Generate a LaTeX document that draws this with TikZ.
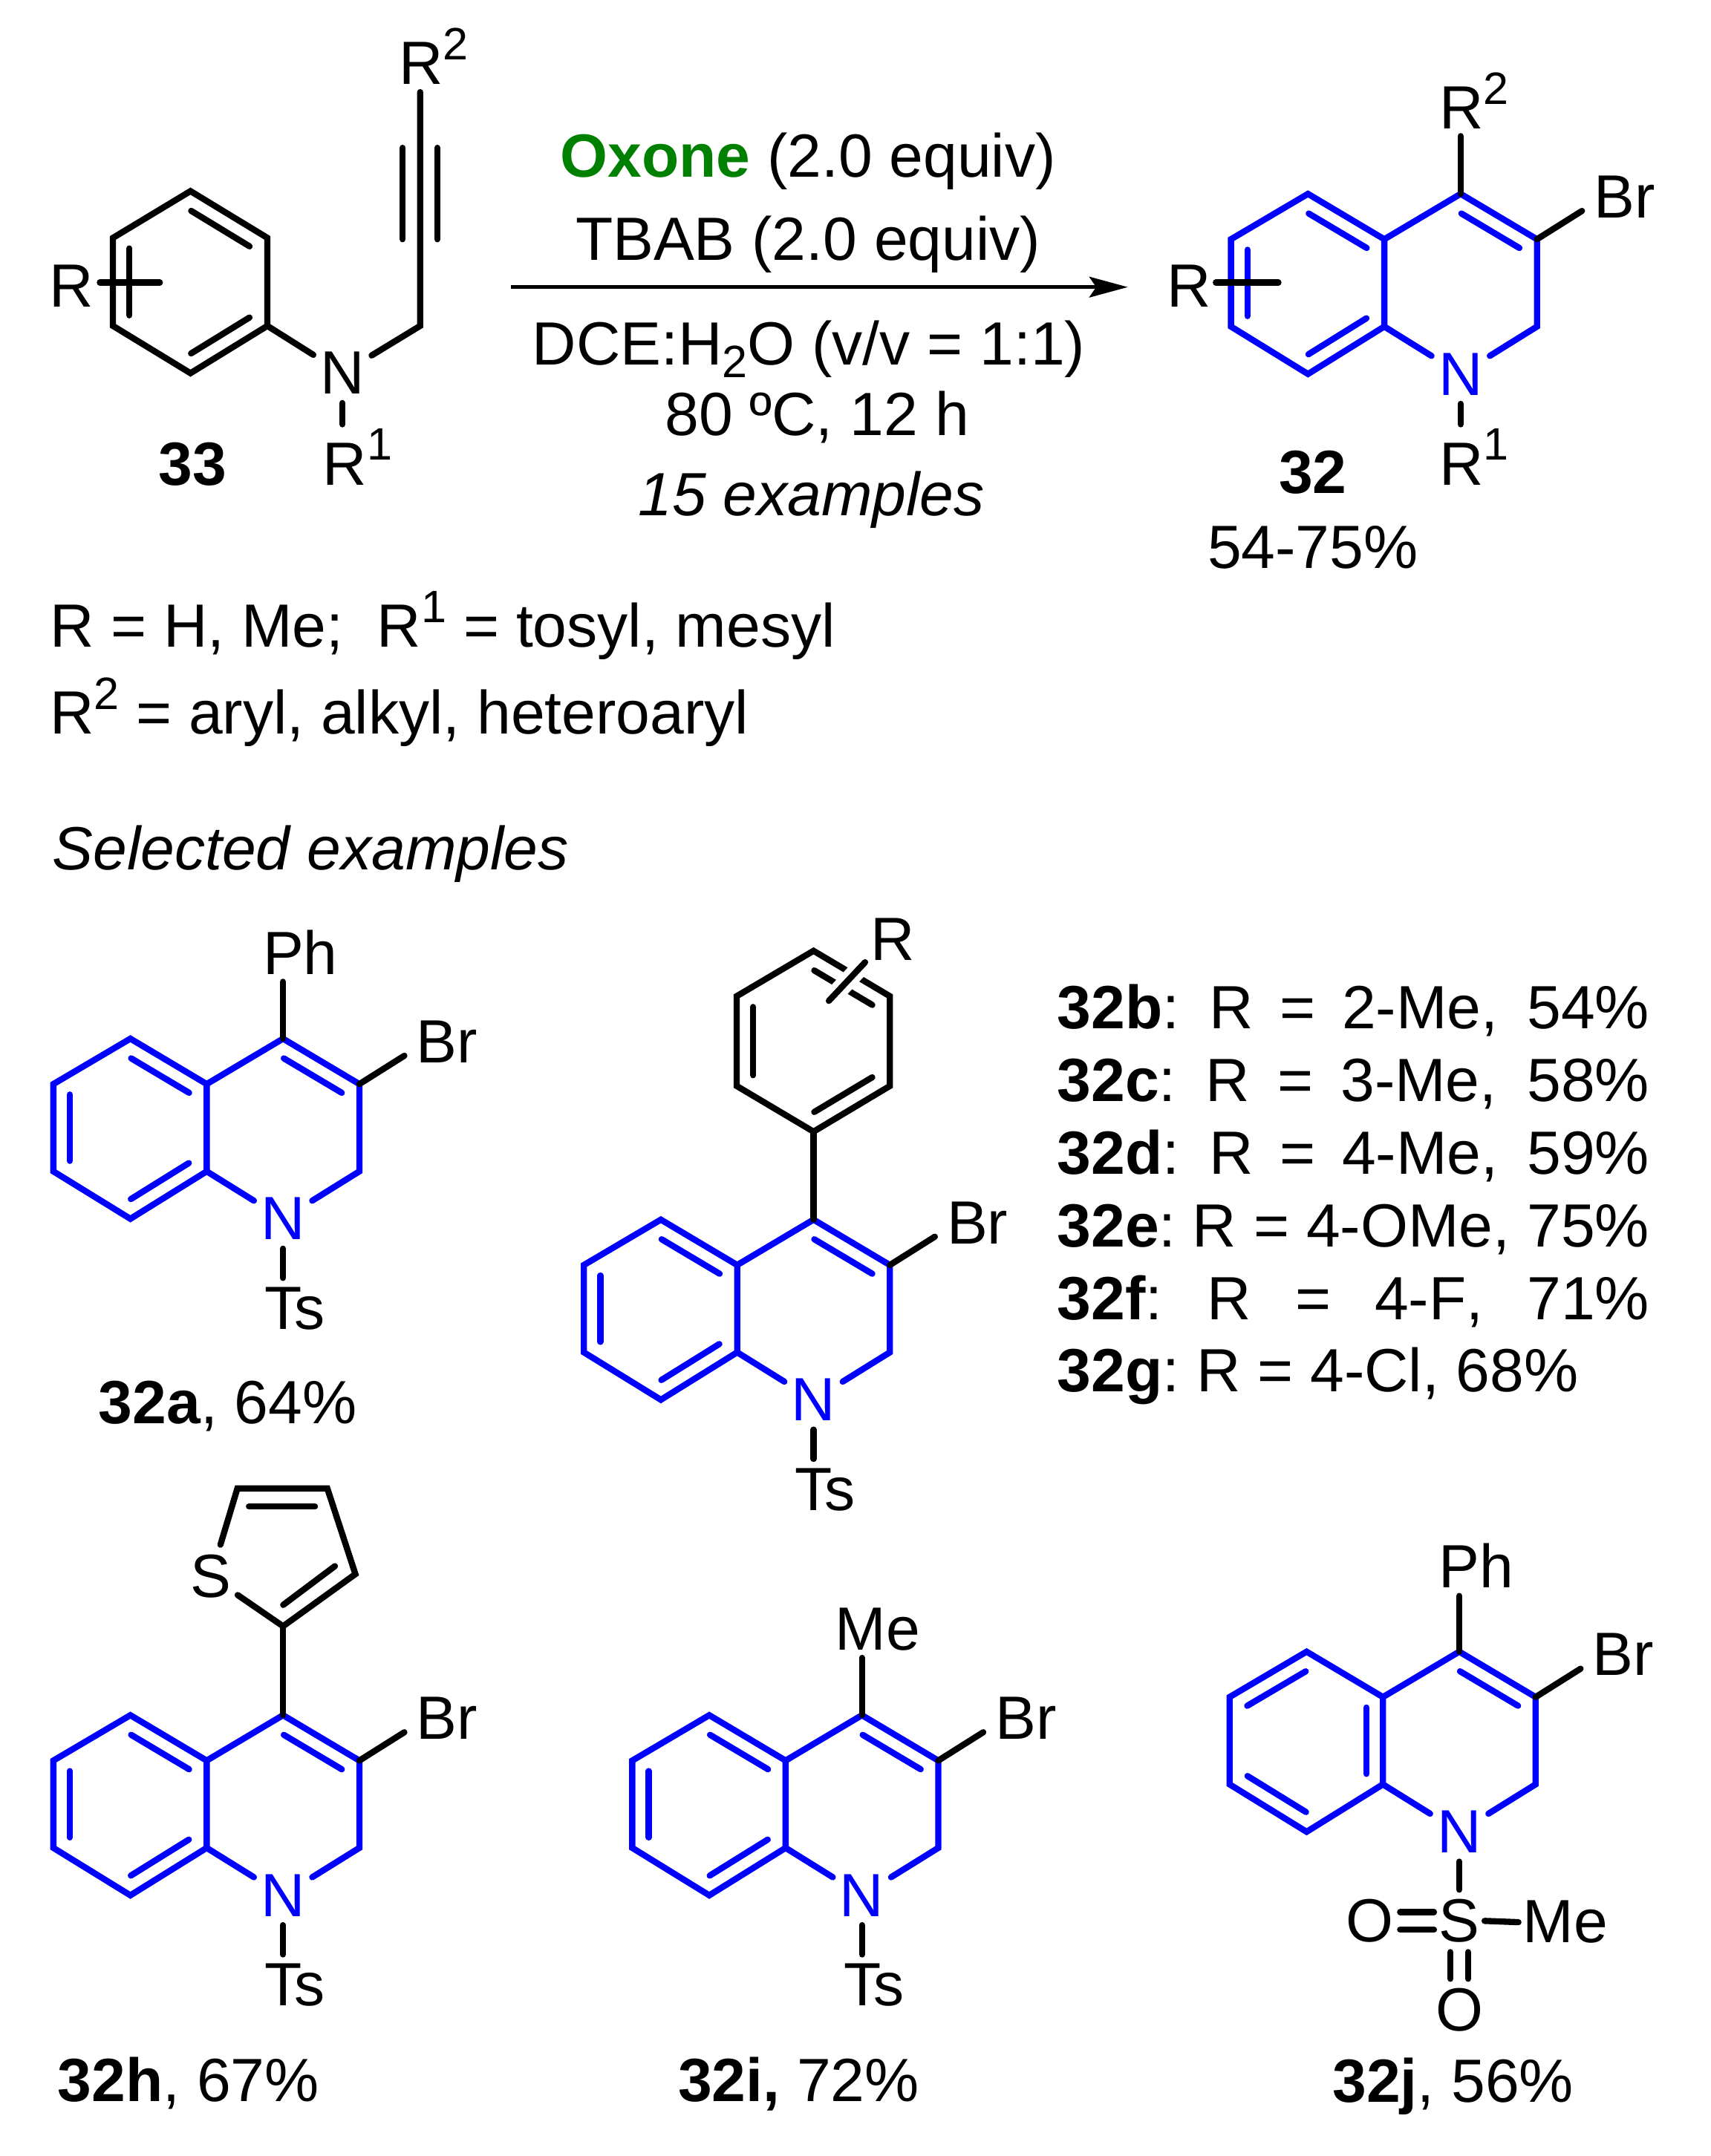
\documentclass[tikz,border=0pt]{standalone}
\usepackage{fontspec}
\setmainfont[Kerning=Off]{Liberation Sans}
\usetikzlibrary{calc,arrows.meta}
\definecolor{ringblue}{HTML}{0000FF}
\definecolor{oxgreen}{HTML}{008000}
\newcommand{\supr}[1]{\raisebox{18pt}{\fontsize{33}{33}\selectfont #1}}
\newcommand{\subr}[1]{\raisebox{-9pt}{\fontsize{33}{33}\selectfont #1}}
% inner line of a double bond; ring centre on the visual left going from A to B
\newcommand{\dbl}[3][]{\draw[bond,#1] ($(#2)!0.12!(#3)!12pt!90:(#3)$) -- ($(#3)!0.12!(#2)!12pt!-90:(#2)$);}
% quinoline skeleton: prefix, x, y of C4, variant (1 or 2)
\newcommand{\quinoline}[4]{%
  \coordinate (#1c4) at (#2,#3);
  \coordinate (#1c3) at (#2+55.5,#3+33);
  \coordinate (#1c2) at (#2+55.5,#3+96.5);
  \coordinate (#1c4a) at (#2-55.5,#3+33);
  \coordinate (#1c8a) at (#2-55.5,#3+96.5);
  \coordinate (#1c5) at (#2-111,#3);
  \coordinate (#1c6) at (#2-167,#3+33);
  \coordinate (#1c7) at (#2-167,#3+96.5);
  \coordinate (#1c8) at (#2-111,#3+131);
  \node[atom,text=ringblue] (#1N) at (#2,#3+131) {N};
  \draw[bond,ringblue] (#1N) -- (#1c8a) -- (#1c8) -- (#1c7) -- (#1c6) -- (#1c5) -- (#1c4a) -- (#1c8a);
  \draw[bond,ringblue] (#1c4a) -- (#1c4) -- (#1c3) -- (#1c2) -- (#1N);
  \dbl[ringblue]{#1c3}{#1c4}
  \ifnum#4=1
    \dbl[ringblue]{#1c6}{#1c7}
    \dbl[ringblue]{#1c8}{#1c8a}
    \dbl[ringblue]{#1c4a}{#1c5}
  \else
    \dbl[ringblue]{#1c5}{#1c6}
    \dbl[ringblue]{#1c7}{#1c8}
    \dbl[ringblue]{#1c8a}{#1c4a}
  \fi
  \coordinate (#1brend) at (#2+88.2,#3+12.4);
  \node[txt] (#1Br) at (#2+96.8,#3+16.6) {Br};
  \draw[bond] (#1c3) -- (#1brend);
}
\newcommand{\tosyl}[3]{%
  \coordinate (#1tsend) at (#2,#3+174);
  \node[txt] (#1Ts) at (#2-13.5,#3+210.6) {T\kern-5.5pt s};
  \draw[bond] (#1N) -- (#1tsend);
}
\tikzset{
  bond/.style={line width=4.5pt,line cap=round,line join=miter},
  every node/.style={font=\fontsize{44.4}{50}\selectfont,inner sep=0pt},
  txt/.style={anchor=base west,inner sep=0pt,yshift=-0.8pt},
  mid/.style={anchor=base,inner sep=0pt,yshift=-0.8pt},
  atom/.style={inner sep=0pt,minimum width=42pt,minimum height=43pt},
  arrowline/.style={line width=2.6pt,-{Stealth[length=28pt,width=15pt,inset=5pt]}}
}
\begin{document}
\begin{tikzpicture}[x=1pt,y=-1pt]
\useasboundingbox (0,0) rectangle (1244,1568);

% ---------- substrate 33
\coordinate (sa) at (138.5,139);
\coordinate (sb) at (194.4,173);
\coordinate (sc) at (194.4,237);
\coordinate (sd) at (138.5,271.4);
\coordinate (se) at (82.1,237);
\coordinate (sf) at (82.1,173);
\coordinate (sch) at (305.5,237);
\coordinate (sal) at (305.5,67);
\coordinate (st1) at (292.8,107.5);
\coordinate (st2) at (292.8,174);
\coordinate (st3) at (318,107.5);
\coordinate (st4) at (318,174);
\coordinate (sxa) at (72.6,205.5);
\coordinate (sxb) at (116.2,205.5);
\coordinate (sr1end) at (249,308.6);
\node[atom] (sN) at (249,271.4) {N};
\draw[bond] (sa) -- (sb) -- (sc) -- (sd) -- (se) -- (sf) -- cycle;
\dbl{sd}{sc}
\dbl{sb}{sa}
\dbl{sf}{se}
\draw[bond] (sc) -- (sN);
\draw[bond] (sN) -- (sch) -- (sal);
\draw[bond] (st1) -- (st2);
\draw[bond] (st3) -- (st4);
\draw[bond] (sxa) -- (sxb);
\draw[bond] (sN) -- (sr1end);
\node[txt] (sR) at (35.5,222.6) {R};
\node[txt] (sR2) at (290,60.6) {R\supr{2}};
\node[txt] (sR1) at (234.5,351.8) {R\supr{1}};
\node[mid,font=\fontsize{44.4}{50}\selectfont\bfseries] (lab33) at (140,351.8) {33};

% ---------- reaction arrow and conditions
\coordinate (arrowstart) at (371.7,208.8);
\coordinate (arrowend) at (820,208.8);
\draw[arrowline] (arrowstart) -- (arrowend);
\node[mid] (cond1) at (587.5,128) {\textcolor{oxgreen}{\textbf{Oxone}} (2.0 equiv)};
\node[mid] (cond2) at (587.5,188.7) {TBAB (2.0 equiv)};
\node[mid] (cond3) at (588,264.5) {DCE:H\subr{2}O (v/v = 1:1)};
\node[mid] (cond4) at (594,316) {80 ºC, 12 h};
\node[mid] (cond5) at (590,374) {\itshape 15 examples};

% ---------- product 32
\quinoline{p}{1062}{141}{1}
\coordinate (pxa) at (884,205.5);
\coordinate (pxb) at (929.5,205.5);
\coordinate (pr2end) at (1062,99);
\coordinate (pr1end) at (1062,308.6);
\draw[bond] (pxa) -- (pxb);
\draw[bond] (pc4) -- (pr2end);
\draw[bond] (pN) -- (pr1end);
\node[txt] (pR) at (848.5,222.6) {R};
\node[txt] (pR2) at (1046.5,93) {R\supr{2}};
\node[txt] (pR1) at (1046.5,351.8) {R\supr{1}};
\node[mid,font=\fontsize{44.4}{50}\selectfont\bfseries] (lab32) at (954.5,358) {32};
\node[mid] (yield32) at (954.5,412.7) {54-75\%};

% ---------- definitions
\node[txt] (def1) at (36,470) {R = H, Me;\ \ R\supr{1} = tosyl, mesyl};
\node[txt] (def2) at (36,533) {R\supr{2} = aryl, alkyl, heteroaryl};
\node[txt] (selected) at (38,632) {\itshape Selected examples};

% ---------- 32a
\quinoline{a}{205.8}{755.4}{1}
\tosyl{a}{205.8}{755.4}
\coordinate (aphend) at (205.8,714);
\draw[bond] (ac4) -- (aphend);
\node[txt] (aPh) at (191,707.7) {Ph};
\node[mid] (laba) at (165.6,1034.5) {\textbf{32a}, 64\%};

% ---------- 32b-g
\quinoline{b}{591.5}{887}{1}
\tosyl{b}{591.5}{887}
\coordinate (ba) at (591.5,691.5);
\coordinate (bb) at (647,724.5);
\coordinate (bc) at (647,789.8);
\coordinate (bd) at (591.5,823);
\coordinate (be) at (535.6,789.8);
\coordinate (bf) at (535.6,724.5);
\coordinate (brb) at (602.6,727.9);
\coordinate (brt) at (629,699.8);
\draw[bond] (ba) -- (bb) -- (bc) -- (bd) -- (be) -- (bf) -- cycle;
\dbl{bb}{ba}
\dbl{bd}{bc}
\dbl{bf}{be}
\draw[bond] (bd) -- (bc4);
\draw[line width=13pt,white,line cap=butt] (brb) -- (brt);
\draw[bond] (brb) -- (brt);
\node[txt] (bR) at (633,697.5) {R};
\node[txt] (row1) at (768.5,747.5) {\makebox[430.5pt][s]{\textbf{32b}:\hspace{21.5pt}R = 2-Me, 54\%}};
\node[txt] (row2) at (768.5,800) {\makebox[430.5pt][s]{\textbf{32c}:\hspace{21.5pt}R = 3-Me, 58\%}};
\node[txt] (row3) at (768.5,853) {\makebox[430.5pt][s]{\textbf{32d}:\hspace{21.5pt}R = 4-Me, 59\%}};
\node[txt] (row4) at (768.5,905.8) {\makebox[430.5pt][s]{\textbf{32e}:\hspace{12pt}R = 4-OMe, 75\%}};
\node[txt] (row5) at (768.5,958.8) {\makebox[430.5pt][s]{\textbf{32f}:\hspace{32.5pt}R = 4-F, 71\%}};
\node[txt] (row6) at (768.5,1011.5) {\textbf{32g}:\hspace{12.5pt}R = 4-Cl, 68\%};

% ---------- 32h
\quinoline{h}{205.8}{1247.4}{1}
\tosyl{h}{205.8}{1247.4}
\node[atom,minimum width=38.6pt,minimum height=46pt] (hS) at (153.3,1146.6) {S};
\coordinate (hc2) at (205.8,1182.7);
\coordinate (hc3) at (258.4,1144.8);
\coordinate (hc4t) at (238,1082.5);
\coordinate (hc5) at (172.6,1082.5);
\coordinate (hi1) at (181,1095.7);
\coordinate (hi2) at (229,1095.7);
\coordinate (hi3) at (243.5,1139);
\coordinate (hi4) at (205.9,1167.2);
\draw[bond] (hS) -- (hc5) -- (hc4t) -- (hc3) -- (hc2) -- (hS);
\draw[bond] (hi1) -- (hi2);
\draw[bond] (hi3) -- (hi4);
\draw[bond] (hc2) -- (hc4);
\node[mid] (labh) at (137,1527.6) {\textbf{32h}, 67\%};

% ---------- 32i
\quinoline{i}{626.7}{1247.4}{1}
\tosyl{i}{626.7}{1247.4}
\coordinate (imeend) at (626.7,1205.7);
\draw[bond] (ic4) -- (imeend);
\node[txt] (iMe) at (607.2,1199) {Me};
\node[mid] (labi) at (580.6,1527.6) {\textbf{32i,} 72\%};

% ---------- 32j
\quinoline{j}{1061}{1201.2}{2}
\coordinate (jphend) at (1061,1160.7);
\draw[bond] (jc4) -- (jphend);
\node[txt] (jPh) at (1046.1,1153.9) {Ph};
\node[atom,minimum width=36.4pt,minimum height=45pt] (jS) at (1061,1397) {S};
\node[atom,minimum width=43.6pt,minimum height=45pt] (jO1) at (996,1397) {O};
\node[atom,minimum width=36pt,minimum height=44.6pt] (jO2) at (1061,1461.6) {O};
\node[txt,inner xsep=3pt] (jMe) at (1104,1412.2) {Me};
\draw[bond] (jN) -- (jS);
\draw[bond] ([yshift=6.4pt]jO1.east) -- ([yshift=6.4pt]jS.west);
\draw[bond] ([yshift=-6.4pt]jO1.east) -- ([yshift=-6.4pt]jS.west);
\draw[bond] ([xshift=-6.4pt]jS.south) -- ([xshift=-6.4pt]jO2.north);
\draw[bond] ([xshift=6.4pt]jS.south) -- ([xshift=6.4pt]jO2.north);
\draw[bond] (jS.east) -- (jMe.west);
\node[mid] (labj) at (1056.5,1528) {\textbf{32j}, 56\%};
\end{tikzpicture}
\end{document}
